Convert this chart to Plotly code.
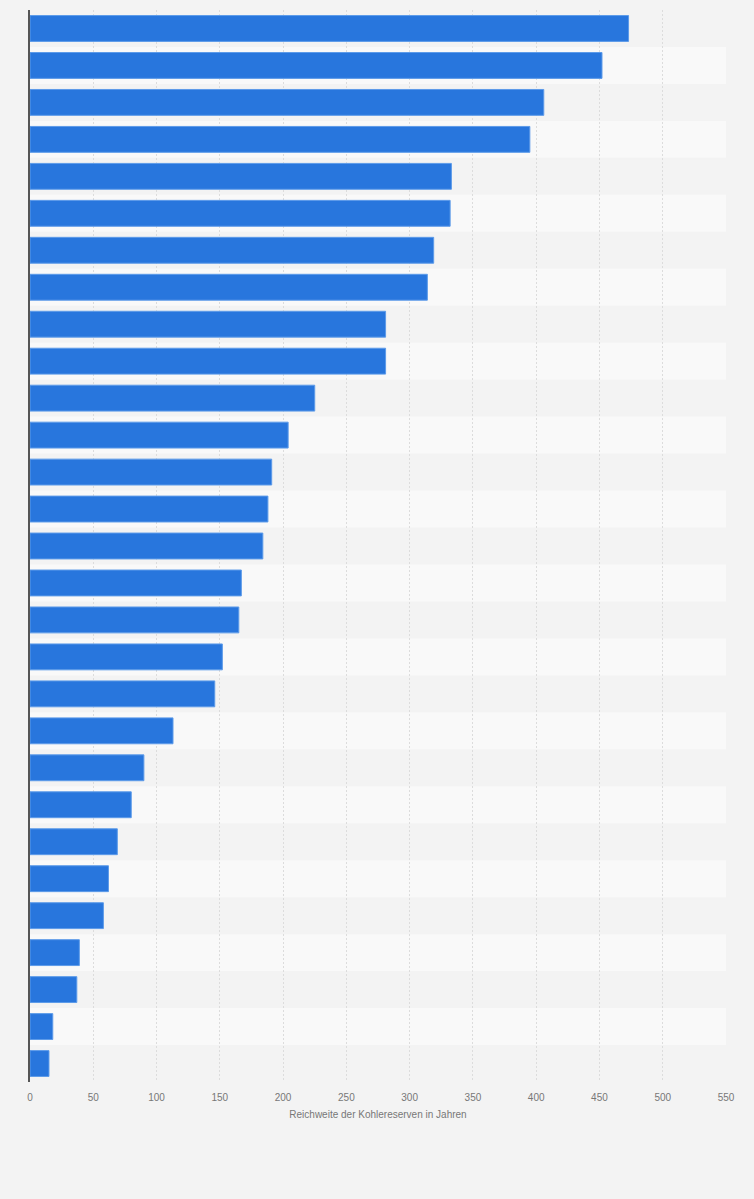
import plotly.graph_objects as go

# Reichweite der Kohlereserven (Jahre), sortiert absteigend
rank_labels = [f'Land {i}' for i in range(1, 30)]
years_left = [473, 452, 406, 395, 333, 332, 319, 314, 281, 281,
              225, 204, 191, 188, 184, 167, 165, 152, 146, 113,
              90, 80, 69, 62, 58, 39, 37, 18, 15]
x_ticks = list(range(0, 551, 50))

bg = '#f3f3f3'
band = '#f9f9f9'

fig = go.Figure(go.Bar(
    x=years_left, y=rank_labels, orientation='h',
    width=0.7,
    marker=dict(color='#2876dd', line=dict(color='#5d9be9', width=1)),
    hoverinfo='x+y',
))

# alternating row stripes behind the bars
for i, lab in enumerate(rank_labels):
    if i % 2 == 1:
        fig.add_shape(type='rect', xref='x', yref='y', layer='below',
                      x0=0, x1=550, y0=i - 0.5, y1=i + 0.5,
                      fillcolor=band, line_width=0)

fig.update_layout(
    width=754, height=1199,
    paper_bgcolor=bg, plot_bgcolor=bg,
    margin=dict(l=30, r=28, t=10, b=117),
    showlegend=False,
    font=dict(family='Arial, Liberation Sans, sans-serif', color='#666666', size=10),
    bargap=0.3,
)
fig.update_xaxes(
    range=[0, 550], tickvals=x_ticks, ticks='', ticklabelstandoff=8,
    showgrid=True, gridcolor='#dcdcdc', griddash='2px,2px', gridwidth=1,
    zeroline=False, showline=False,
    tickfont=dict(size=10, color='#777777'),
    title=dict(text='Reichweite der Kohlereserven in Jahren',
               font=dict(size=10, color='#777777'), standoff=8),
)
fig.update_yaxes(
    categoryorder='array', categoryarray=rank_labels, autorange='reversed',
    showticklabels=False, ticks='', showgrid=False,
    showline=True, linecolor='#555555', linewidth=1.5,
)

# no white page border around the figure
fig.write_html('out.html', config={'displayModeBar': False},
               post_script="document.body.style.margin='0';"
                           "document.body.style.background='#f3f3f3';")
